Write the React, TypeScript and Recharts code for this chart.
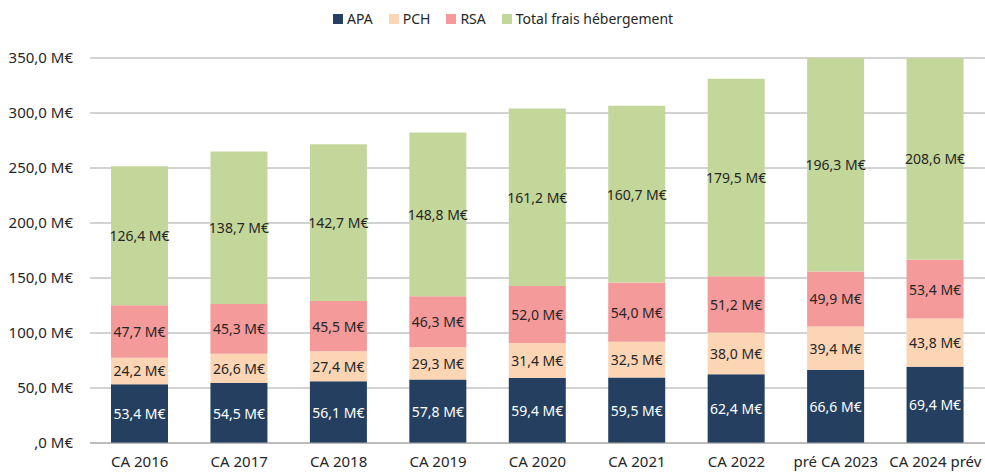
import React from 'react';
import { BarChart, Bar, XAxis, YAxis, CartesianGrid, Legend, LabelList } from 'recharts';

const categories = ['CA 2016', 'CA 2017', 'CA 2018', 'CA 2019', 'CA 2020', 'CA 2021', 'CA 2022', 'pré CA 2023', 'CA 2024 prév'];
const apa = [53.4, 54.5, 56.1, 57.8, 59.4, 59.5, 62.4, 66.6, 69.4];
const pch = [24.2, 26.6, 27.4, 29.3, 31.4, 32.5, 38.0, 39.4, 43.8];
const rsa = [47.7, 45.3, 45.5, 46.3, 52.0, 54.0, 51.2, 49.9, 53.4];
const hebergement = [126.4, 138.7, 142.7, 148.8, 161.2, 160.7, 179.5, 196.3, 208.6];
const yTicks = [0, 50, 100, 150, 200, 250, 300, 350];

const series = [
    { key: 'apa', name: 'APA', color: '#243F60', text: '#FFFFFF' },
    { key: 'pch', name: 'PCH', color: '#FCD5B5', text: '#262626' },
    { key: 'rsa', name: 'RSA', color: '#F59A9A', text: '#262626' },
    { key: 'heb', name: 'Total frais hébergement', color: '#C4D79B', text: '#262626' },
];

const data = categories.map((c, i) => ({
    name: c,
    apa: apa[i],
    pch: pch[i],
    rsa: rsa[i],
    heb: hebergement[i],
}));

const FONT = '"Noto Sans", sans-serif';

const fmt = (v: number) => {
    const s = v.toFixed(1).replace('.', ',');
    return (s.startsWith('0,') ? s.slice(1) : s) + ' M€';
};

const makeLabel = (color: string) => (props: any) => {
    const { x, y, width, height, value } = props;
    return (
        <text
            x={Number(x) + Number(width) / 2}
            y={Number(y) + Number(height) / 2}
            textAnchor="middle"
            dominantBaseline="central"
            fill={color}
            fontSize={14}
            fontFamily={FONT}
        >
            {fmt(Number(value))}
        </text>
    );
};

const LegendContent = () => (
    <div style={{ display: 'flex', marginLeft: 333, fontFamily: FONT, fontSize: 14, color: '#262626' }}>
        {series.map((s) => (
            <div key={s.key} style={{ display: 'flex', alignItems: 'center', marginRight: 16 }}>
                <span style={{ width: 10, height: 10, background: s.color, display: 'inline-block', marginRight: 4 }} />
                <span>{s.name}</span>
            </div>
        ))}
    </div>
);

const App: React.FC = () => {
    return (
        <div style={{ position: 'absolute', left: 0, top: 0, background: '#fff' }}>
            <BarChart width={985} height={473} data={data} margin={{ top: 58, right: 0, left: 0, bottom: 0 }}>
                <CartesianGrid vertical={false} stroke="#A6A6A6" />
                <XAxis
                    dataKey="name"
                    height={30}
                    tickLine={false}
                    axisLine={{ stroke: '#A6A6A6' }}
                    tick={{ fill: '#262626', fontSize: 15, fontFamily: FONT }}
                    tickMargin={7}
                    interval={0}
                />
                <YAxis
                    width={90}
                    domain={[0, 350]}
                    ticks={yTicks}
                    allowDataOverflow
                    axisLine={false}
                    tickLine={false}
                    tickSize={0}
                    tickMargin={17}
                    tickFormatter={fmt}
                    tick={{ fill: '#262626', fontSize: 15, fontFamily: FONT }}
                />
                <Legend
                    verticalAlign="middle"
                    align="center"
                    content={<LegendContent />}
                    wrapperStyle={{ top: 9, left: 0, width: 985 }}
                />
                {series.map((s) => (
                    <Bar key={s.key} dataKey={s.key} name={s.name} stackId="a" fill={s.color} barSize={57} isAnimationActive={false}>
                        <LabelList dataKey={s.key} content={makeLabel(s.text)} />
                    </Bar>
                ))}
            </BarChart>
        </div>
    );
};

export default App;
